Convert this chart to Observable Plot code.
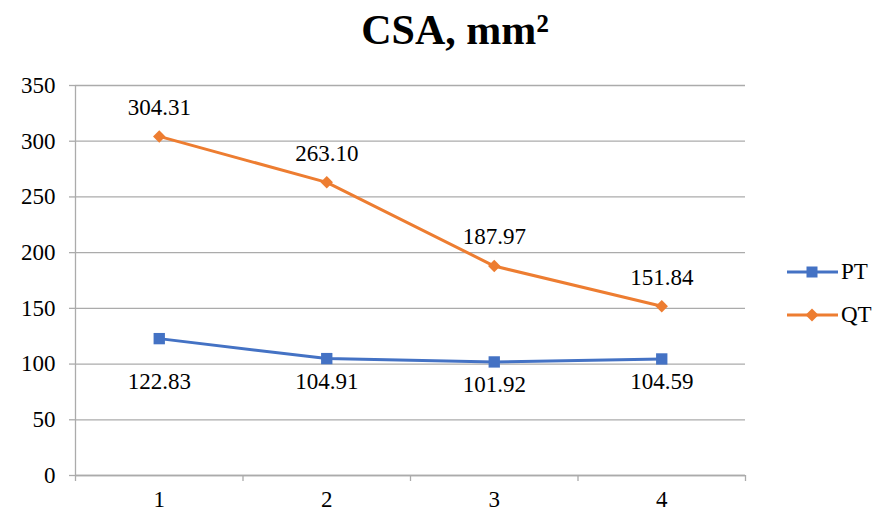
<!DOCTYPE html>
<html>
<head>
<meta charset="utf-8">
<script src="https://cdn.jsdelivr.net/npm/d3@7"></script>
<script src="https://cdn.jsdelivr.net/npm/@observablehq/plot@0.6"></script>
<style>
  html, body { margin: 0; padding: 0; background: #fff; }
  #wrap { position: relative; width: 883px; height: 516px; font-family: "Liberation Serif", "DejaVu Serif", serif; }
  #title { position: absolute; left: 0; width: 910px; top: 6px; text-align: center; font-size: 42px; font-weight: bold; color: #000; }
  #legend { position: absolute; left: 787px; top: 258px; font-size: 23px; color: #000; }
  .item { display: flex; align-items: center; height: 28px; margin-bottom: 15px; }
  .item span { margin-left: 3px; }
  svg { overflow: visible; }
</style>
</head>
<body>
<div id="wrap">
  <div id="title">CSA, mm²</div>
  <div id="chart"></div>
  <div id="legend"></div>
</div>
<script>
const categories = [1, 2, 3, 4];
const ptValues = [122.83, 104.91, 101.92, 104.59];
const qtValues = [304.31, 263.10, 187.97, 151.84];
const yTicks = [0, 50, 100, 150, 200, 250, 300, 350];
const seriesNames = ["PT", "QT"];
const seriesColors = ["#4472C4", "#ED7D31"];

const pt = categories.map((c, i) => ({x: c, y: ptValues[i]}));
const qt = categories.map((c, i) => ({x: c, y: qtValues[i]}));
const bounds = d3.range(categories.length + 1).map(i => categories[0] - 0.5 + i);
const gray = "#ababab";
const font = "Liberation Serif";

const chart = Plot.plot({
  width: 883,
  height: 516,
  marginLeft: 75,
  marginRight: 138,
  marginTop: 85,
  marginBottom: 41,
  style: {fontFamily: font, background: "transparent"},
  x: {domain: [bounds[0], bounds[bounds.length - 1]], axis: null},
  y: {domain: [0, 350], axis: null},
  marks: [
    Plot.gridY(yTicks, {stroke: gray, strokeOpacity: 1, strokeWidth: 1.3}),
    Plot.axisY({ticks: yTicks, tickSize: 6, tickPadding: 14, tickFormat: d => String(d), stroke: gray, strokeWidth: 1.3, fill: "#000", fontSize: 23, label: null}),
    Plot.ruleX([bounds[0]], {stroke: gray, strokeWidth: 1.3}),
    Plot.ruleY([0], {stroke: gray, strokeWidth: 1.3}),
    Plot.axisX({ticks: bounds, tickSize: 6, tickFormat: () => "", stroke: gray, strokeWidth: 1.3, label: null}),
    Plot.axisX({ticks: categories, tickSize: 0, tickPadding: 15, tickFormat: d => String(d), fill: "#000", fontSize: 23, label: null}),
    Plot.line(pt, {x: "x", y: "y", stroke: seriesColors[0], strokeWidth: 3}),
    Plot.line(qt, {x: "x", y: "y", stroke: seriesColors[1], strokeWidth: 3}),
    Plot.dot(pt, {x: "x", y: "y", symbol: "square", r: 6.4, fill: seriesColors[0], stroke: null}),
    Plot.dot(qt, {x: "x", y: "y", symbol: "diamond2", r: 5.6, fill: seriesColors[1], stroke: null}),
    Plot.text(qt, {x: "x", y: "y", text: d => d.y.toFixed(2), dy: -29, fontSize: 23, fill: "#000"}),
    Plot.text(pt, {filter: (d, i) => i === 0, x: "x", y: "y", text: d => d.y.toFixed(2), dy: 43, fontSize: 23, fill: "#000"}),
    Plot.text(pt, {filter: (d, i) => i > 0, x: "x", y: "y", text: d => d.y.toFixed(2), dy: 23, fontSize: 23, fill: "#000"})
  ]
});
document.getElementById("chart").appendChild(chart);

// legend
const legend = document.getElementById("legend");
seriesNames.forEach((name, i) => {
  const item = document.createElement("div");
  item.className = "item";
  const sym = i === 0
    ? `<rect x="19.5" y="8.5" width="11" height="11" fill="${seriesColors[i]}"/>`
    : `<path d="M25,7.5 L31.5,14 L25,20.5 L18.5,14 Z" fill="${seriesColors[i]}"/>`;
  item.innerHTML = `<svg width="51" height="28"><line x1="0" x2="51" y1="14" y2="14" stroke="${seriesColors[i]}" stroke-width="3"/>${sym}</svg><span>${name}</span>`;
  legend.appendChild(item);
});
</script>
</body>
</html>
